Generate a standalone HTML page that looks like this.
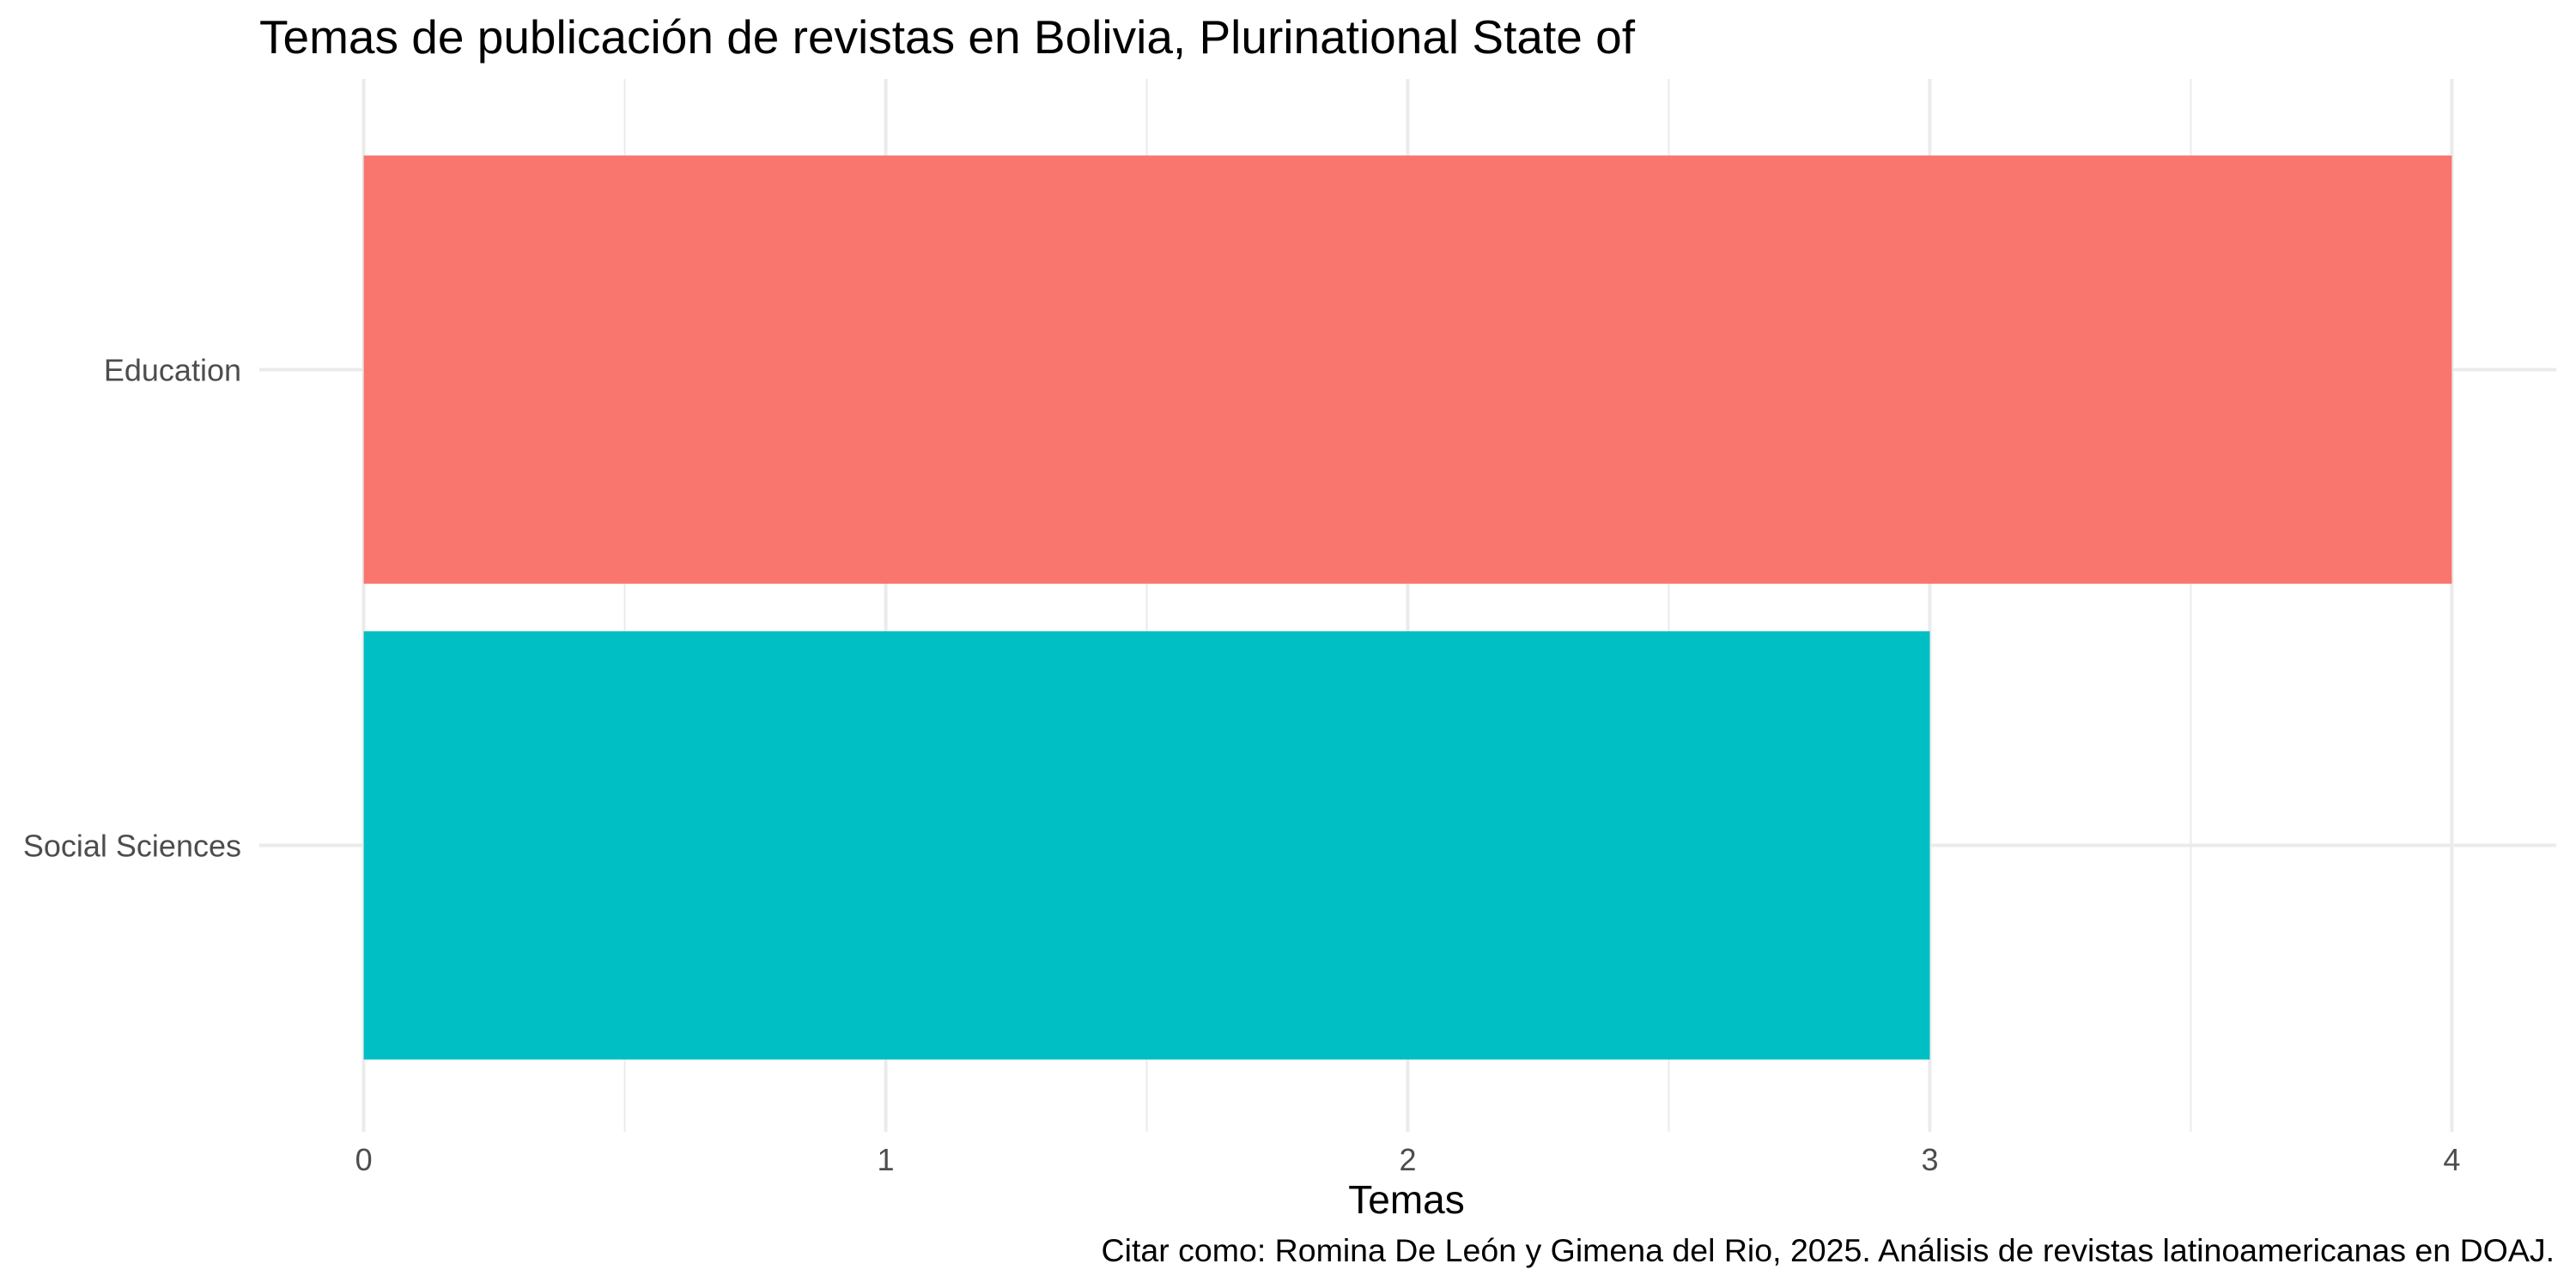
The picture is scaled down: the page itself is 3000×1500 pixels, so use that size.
<!DOCTYPE html>
<html><head><meta charset="utf-8">
<style>
html,body{margin:0;padding:0;background:#fff;}
svg{display:block;font-family:"Liberation Sans",Arial,sans-serif;}
</style></head>
<body>
<svg id="chart" width="3000" height="1500" viewBox="0 0 3000 1500" xmlns="http://www.w3.org/2000/svg">
<rect width="3000" height="1500" fill="#fff"/>
<g id="grid"></g>
<g id="bars"></g>
<g id="labels"></g>
<text x="302" y="62" font-size="55" fill="#000">Temas de publicación de revistas en Bolivia, Plurinational State of</text>
<text x="1638" y="1413" font-size="46" fill="#000" text-anchor="middle">Temas</text>
<text x="2975" y="1469" font-size="37.5" fill="#000" text-anchor="end">Citar como: Romina De León y Gimena del Rio, 2025. Análisis de revistas latinoamericanas en DOAJ.</text>
</svg>
<script>
const categories = ["Education", "Social Sciences"];
const values = [4, 3];
const colors = ["#F8766D", "#00BFC4"];
const xTicks = [0, 1, 2, 3, 4];
const xTickLabels = ["0", "1", "2", "3", "4"];

const NS = "http://www.w3.org/2000/svg";
const panel = {left: 302, right: 2977, top: 98, bottom: 1317};
const gridTop = 92, gridBottom = 1318;
const xMin = -0.2, xMax = 4.2;
function xScale(v){ return panel.left + (v - xMin) / (xMax - xMin) * (panel.right - panel.left); }
const n = categories.length;
function yScale(i){
  const pos = n - i;
  const lo = 0.4, hi = n + 0.6;
  return panel.bottom - (pos - lo) / (hi - lo) * (panel.bottom - panel.top);
}
const unitY = (panel.bottom - panel.top) / (n + 0.2);

const grid = document.getElementById('grid');
const bars = document.getElementById('bars');
const labels = document.getElementById('labels');

function mk(tag, attrs, parent){
  const e = document.createElementNS(NS, tag);
  for (const k in attrs) e.setAttribute(k, attrs[k]);
  parent.appendChild(e);
  return e;
}

for (let i = 0; i < xTicks.length - 1; i++) {
  const m = (xTicks[i] + xTicks[i+1]) / 2;
  const l = mk('line', {x1: xScale(m), x2: xScale(m), y1: gridTop, y2: gridBottom, stroke: '#ebebeb', 'stroke-width': 2}, grid);
  
  
}
xTicks.forEach((t, i) => {
  const l = mk('line', {x1: xScale(t), x2: xScale(t), y1: gridTop, y2: gridBottom, stroke: '#ebebeb', 'stroke-width': 4}, grid);
  
  
  const tx = mk('text', {x: xScale(t), y: 1363, 'font-size': 36, fill: '#4d4d4d', 'text-anchor': 'middle'}, labels);
  tx.textContent = xTickLabels[i];
  
  
});
categories.forEach((c, i) => {
  const cy = yScale(i);
  const g = mk('line', {x1: panel.left, x2: panel.right, y1: cy, y2: cy, stroke: '#ebebeb', 'stroke-width': 4}, grid);
  
  
  const h = unitY * 0.9;
  const r = mk('rect', {x: xScale(0), y: cy - h/2, width: xScale(values[i]) - xScale(0), height: h, fill: colors[i]}, bars);
  
  
  const tx = mk('text', {x: 281, y: cy + 13, 'font-size': 36, fill: '#4d4d4d', 'text-anchor': 'end'}, labels);
  tx.textContent = c;
  
  
});
</script>
</body></html>
